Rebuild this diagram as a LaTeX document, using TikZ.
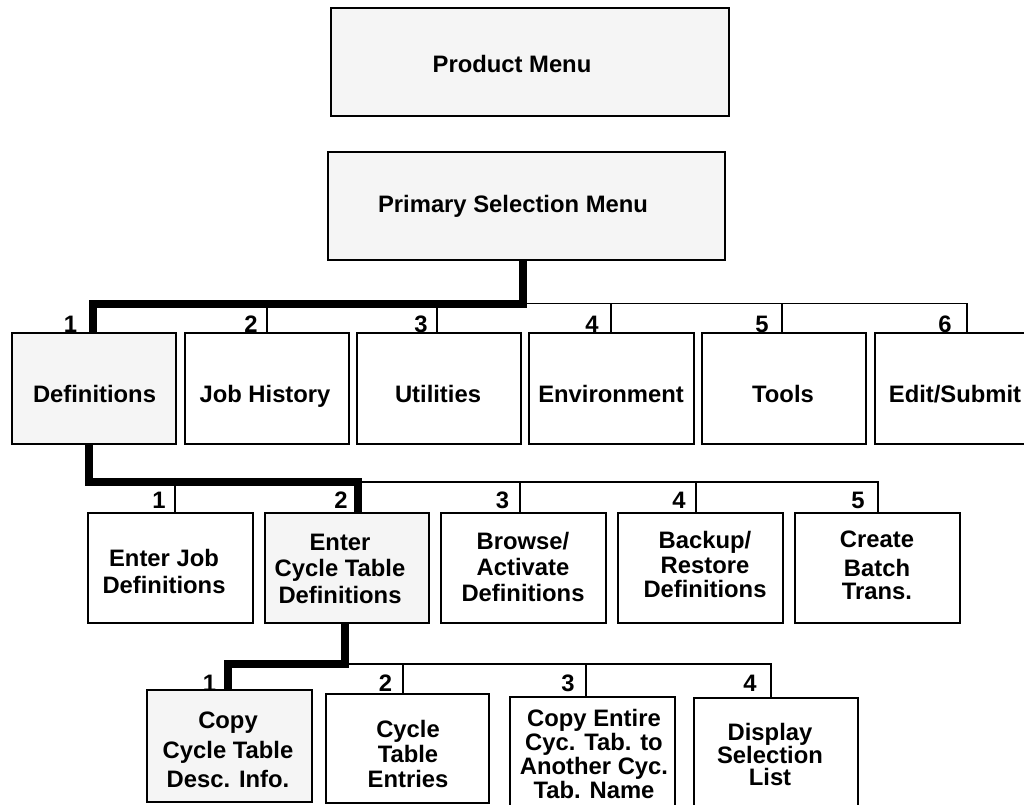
\documentclass[tikz,border=0pt]{standalone}
\usepackage{fontspec}
\setmainfont{Liberation Sans}
\definecolor{selgray}{HTML}{F5F5F5}
\begin{document}
\begin{tikzpicture}[x=1pt,y=-1pt,
  menubox/.style 2 args={draw, line width=2pt, rectangle, inner sep=0pt,
    anchor=north west, minimum width=#1pt, minimum height=#2pt},
  picked/.style={fill=selgray},
  lbl/.style={inner sep=0pt, align=center,
    font=\bfseries\fontsize{23.8}{#1}\selectfont},
  lbl/.default=26,
  num/.style={inner sep=0pt, anchor=base,
    font=\bfseries\fontsize{23.8}{26}\selectfont},
  heavy/.style={line width=8pt},
  light/.style={line width=1.6pt},
  fine/.style={line width=1.1pt}]
\clip (0,0) rectangle (1024,804);

% ---- top menus
\node[menubox={398}{108}, picked] (pm)  at (330,7)   {};
\node[menubox={397}{108}, picked] (psm) at (327,151) {};
\node[lbl, anchor=base] (pmt)  at (512,72)  {Product Menu};
\node[lbl, anchor=base] (psmt) at (513,212) {Primary Selection Menu};

% ---- first level
\node[menubox={164}{111}, picked] (def) at (11,332)  {};
\node[menubox={164}{111}] (jhs) at (184,332) {};
\node[menubox={164}{111}] (uti) at (356,332) {};
\node[menubox={165}{111}] (env) at (528,332) {};
\node[menubox={164}{111}] (tls) at (701,332) {};
\node[menubox={164}{111}] (eds) at (874,332) {};
\node[lbl, anchor=base] (deft) at (94.5,402) {Definitions};
\node[lbl, anchor=base] (jhst) at (265,402)  {Job History};
\node[lbl, anchor=base] (utit) at (438,402)  {Utilities};
\node[lbl, anchor=base] (envt) at (611,402)  {Environment};
\node[lbl, anchor=base] (tlst) at (783,402)  {Tools};
\node[lbl, anchor=base] (edst) at (955,402)  {Edit/Submit};
\node[num] (n11) at (70.5,332) {1};
\node[num] (n12) at (251,332)  {2};
\node[num] (n13) at (421,332)  {3};
\node[num] (n14) at (592,332)  {4};
\node[num] (n15) at (762,332)  {5};
\node[num] (n16) at (945,332)  {6};

% ---- second level
\node[menubox={165}{110}] (ejd) at (87,512) {};
\node[menubox={164}{110}, picked] (ecy) at (264,512) {};
\node[menubox={165}{110}] (bad) at (440,512) {};
\node[menubox={165}{110}] (brd) at (617,512) {};
\node[menubox={165}{110}] (cbt) at (794,512) {};
\node[lbl=27]   (ejdt) at (164,571.5) {Enter Job\\Definitions};
\node[lbl=26.5] (ecyt) at (340,568.5) {Enter\\Cycle Table\\Definitions};
\node[lbl=26]   (badt) at (523,567)   {Browse/\\Activate\\Definitions};
\node[lbl=24.5] (brdt) at (705,564.5) {Backup/\\Restore\\Definitions};
\node[lbl=26]   (cbtt) at (877,565.5) {Create\\[3pt]Batch\\[-3pt]Trans.};
\node[num] (n21) at (159,508)   {1};
\node[num] (n22) at (341,508)   {2};
\node[num] (n23) at (502.5,508) {3};
\node[num] (n24) at (679,508)   {4};
\node[num] (n25) at (858,508)   {5};

% ---- third level
\node[menubox={165}{112}, picked] (cci) at (146,689) {};
\node[menubox={163}{109}] (cte) at (325,693) {};
\node[menubox={165}{112}] (cet) at (509,696) {};
\node[menubox={164}{112}] (dsl) at (693,697) {};
\node[lbl=29.5] (ccit) at (228,750)   {Copy\\Cycle Table\\Desc. Info.};
\node[lbl=25]   (ctet) at (408,753.5) {Cycle\\Table\\Entries};
\node[lbl=24]   (cett) at (594,754)   {Copy Entire\\Cyc. Tab. to\\Another Cyc.\\Tab. Name};
\node[lbl=22]   (dslt) at (770,754.5) {Display\\Selection\\List};
\node[num] (n31) at (209.5,691) {1};
\node[num] (n32) at (385.5,691) {2};
\node[num] (n33) at (568,691)   {3};
\node[num] (n34) at (750,691)   {4};

% ---- connectors: primary menu to first level
\coordinate (j0) at (522.5,303.5);
\coordinate (j1) at (92.5,303.5);
\coordinate (j6) at (967,303.5);
\coordinate (j2) at (267,303.5);
\coordinate (j3) at (437,303.5);
\coordinate (j4) at (611,303.5);
\coordinate (j5) at (782,303.5);
\draw[light] (j0) -- (j6) -- (j6 |- eds.north);
\draw[light] (j2) -- (j2 |- jhs.north);
\draw[light] (j3) -- (j3 |- uti.north);
\draw[light] (j4) -- (j4 |- env.north);
\draw[light] (j5) -- (j5 |- tls.north);
\draw[heavy] (psm.south -| j0) -- (j0) -- (j1) -- (j1 |- def.north);

% ---- connectors: Definitions to second level
\coordinate (k0) at (89,482);
\coordinate (k2) at (357.5,482);
\coordinate (k1) at (175,482);
\coordinate (k3) at (520,482);
\coordinate (k4) at (696,482);
\coordinate (k5) at (878,482);
\draw[fine] (k2) -- (k5) -- (k5 |- cbt.north);
\draw[fine] (k1) -- (k1 |- ejd.north);
\draw[fine] (k3) -- (k3 |- bad.north);
\draw[fine] (k4) -- (k4 |- brd.north);
\draw[heavy] (def.south -| k0) -- (k0) -- (k2) -- (k2 |- ecy.north);

% ---- connectors: cycle table definitions to third level
\coordinate (m0) at (345,664);
\coordinate (m1) at (227.5,664);
\coordinate (m2) at (403,664);
\coordinate (m3) at (586,664);
\coordinate (m4) at (771,664);
\draw[fine] (m0) -- (m4) -- (m4 |- dsl.north);
\draw[fine] (m2) -- (m2 |- cte.north);
\draw[fine] (m3) -- (m3 |- cet.north);
\draw[heavy] (ecy.south -| m0) -- (m0) -- (m1) -- (m1 |- cci.north);
\end{tikzpicture}
\end{document}
